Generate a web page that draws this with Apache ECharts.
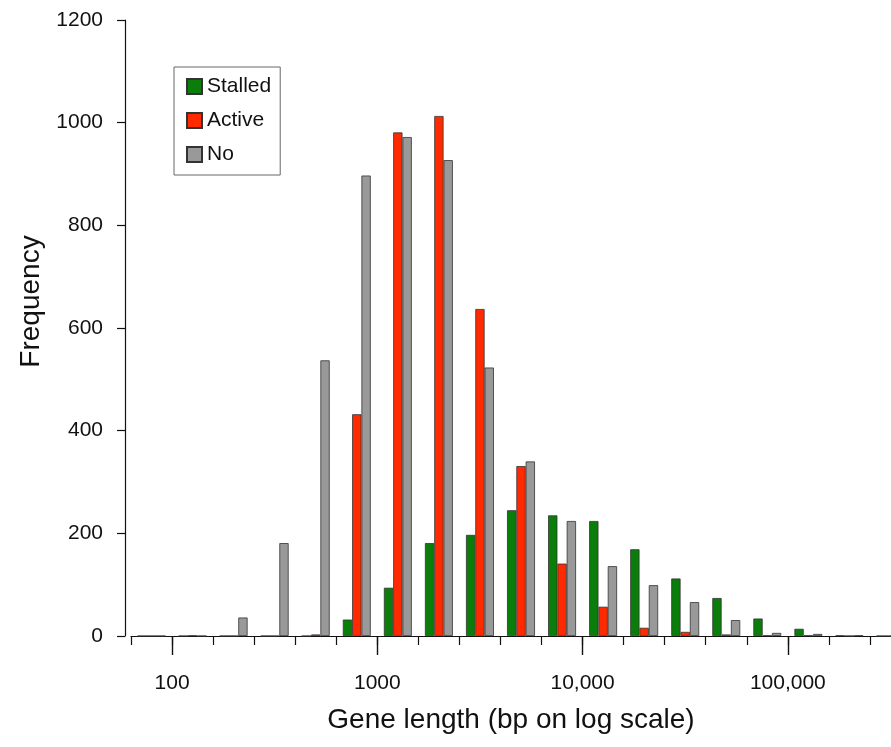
<!DOCTYPE html>
<html>
<head>
<meta charset="utf-8">
<script src="https://cdn.jsdelivr.net/npm/echarts@6/dist/echarts.min.js"></script>
<style>
  html, body { margin: 0; padding: 0; background: #fff; overflow: hidden; }
  /* plot runs past the right edge of the picture, as in the original */
  #chart { width: 911px; height: 747px; }
</style>
</head>
<body>
<div id="chart"></div>
<script>
// bins are 0.2 decade wide, labelled by lower edge (bp)
const bins = ['63', '100', '158', '251', '398', '631', '1000', '1585', '2512', '3981',
  '6310', '10000', '15849', '25119', '39811', '63096', '100000', '158489', '251189'];

const stalled = [0, 0, 0, 0, 0, 32, 94, 181, 197, 245, 235, 224, 169, 112, 74, 34, 14, 1, 0];
const active  = [0, 1, 0, 0, 3, 432, 981, 1013, 637, 331, 141, 57, 16, 8, 3, 1, 1, 0, 0];
const noPol   = [0, 0, 36, 181, 537, 897, 972, 927, 523, 340, 224, 136, 99, 66, 31, 6, 4, 1, 0];

// decade labels for the log scale (log10 position -> text)
const decades = [2, 3, 4, 5];
const decadeLabels = { 2: '100', 3: '1000', 4: '10,000', 5: '100,000' };

const chart = echarts.init(document.getElementById('chart'));
const font = 'Liberation Sans, Arial, sans-serif';
const barBorder = { borderColor: '#333', borderWidth: 0.8 };

chart.setOption({
  animation: false,
  textStyle: { fontFamily: font },
  grid: { left: 131, right: 0, top: 20, bottom: 111 },
  legend: {
    orient: 'vertical',
    left: 174,
    top: 67,
    padding: [9, 9, 10, 12],
    itemGap: 13,
    itemWidth: 15,
    itemHeight: 15,
    borderColor: '#666',
    borderWidth: 1,
    icon: 'rect',
    textStyle: { fontSize: 21, color: '#111', fontFamily: font },
    data: ['Stalled', 'Active', 'No']
  },
  xAxis: [
    {
      type: 'category',
      data: bins,
      boundaryGap: true,
      name: 'Gene length (bp on log scale)',
      nameLocation: 'middle',
      nameGap: 70,
      nameTextStyle: { fontSize: 28, color: '#111', fontFamily: font, padding: [0, 20, 0, 0] },
      axisLine: { lineStyle: { color: '#111', width: 1.2 } },
      axisTick: { show: true, interval: 0, length: 9, lineStyle: { color: '#111', width: 1.2 } },
      axisLabel: { show: false }
    },
    {
      type: 'value',
      min: 1.8,
      max: 5.6,
      position: 'bottom',
      splitLine: { show: false },
      axisLine: { show: false },
      axisTick: { show: true, length: 19, customValues: decades, lineStyle: { color: '#111', width: 1.4 } },
      axisLabel: {
        customValues: decades,
        margin: 37,
        fontSize: 21,
        color: '#111',
        fontFamily: font,
        formatter: v => decadeLabels[v] || ''
      }
    }
  ],
  yAxis: {
    type: 'value',
    min: 0,
    max: 1200,
    interval: 200,
    offset: 6,
    name: 'Frequency',
    nameLocation: 'middle',
    nameGap: 80,
    nameTextStyle: { fontSize: 28, color: '#111', fontFamily: font, padding: [0, 0, 0, 53] },
    splitLine: { show: false },
    axisLine: { show: true, lineStyle: { color: '#111', width: 1.2 } },
    axisTick: { show: true, length: 8, lineStyle: { color: '#111', width: 1.2 } },
    axisLabel: { fontSize: 21, color: '#111', margin: 22, fontFamily: font, formatter: v => String(v) }
  },
  series: [
    {
      name: 'Stalled', type: 'bar', data: stalled, xAxisIndex: 0,
      barGap: '0%', barCategoryGap: '32%',
      itemStyle: Object.assign({ color: '#0a7d0a' }, barBorder)
    },
    {
      name: 'Active', type: 'bar', data: active, xAxisIndex: 0,
      barGap: '0%', barCategoryGap: '32%',
      itemStyle: Object.assign({ color: '#ff2a00' }, barBorder)
    },
    {
      name: 'No', type: 'bar', data: noPol, xAxisIndex: 0,
      barGap: '0%', barCategoryGap: '32%',
      itemStyle: Object.assign({ color: '#999999' }, barBorder)
    }
  ]
});
</script>
</body>
</html>
